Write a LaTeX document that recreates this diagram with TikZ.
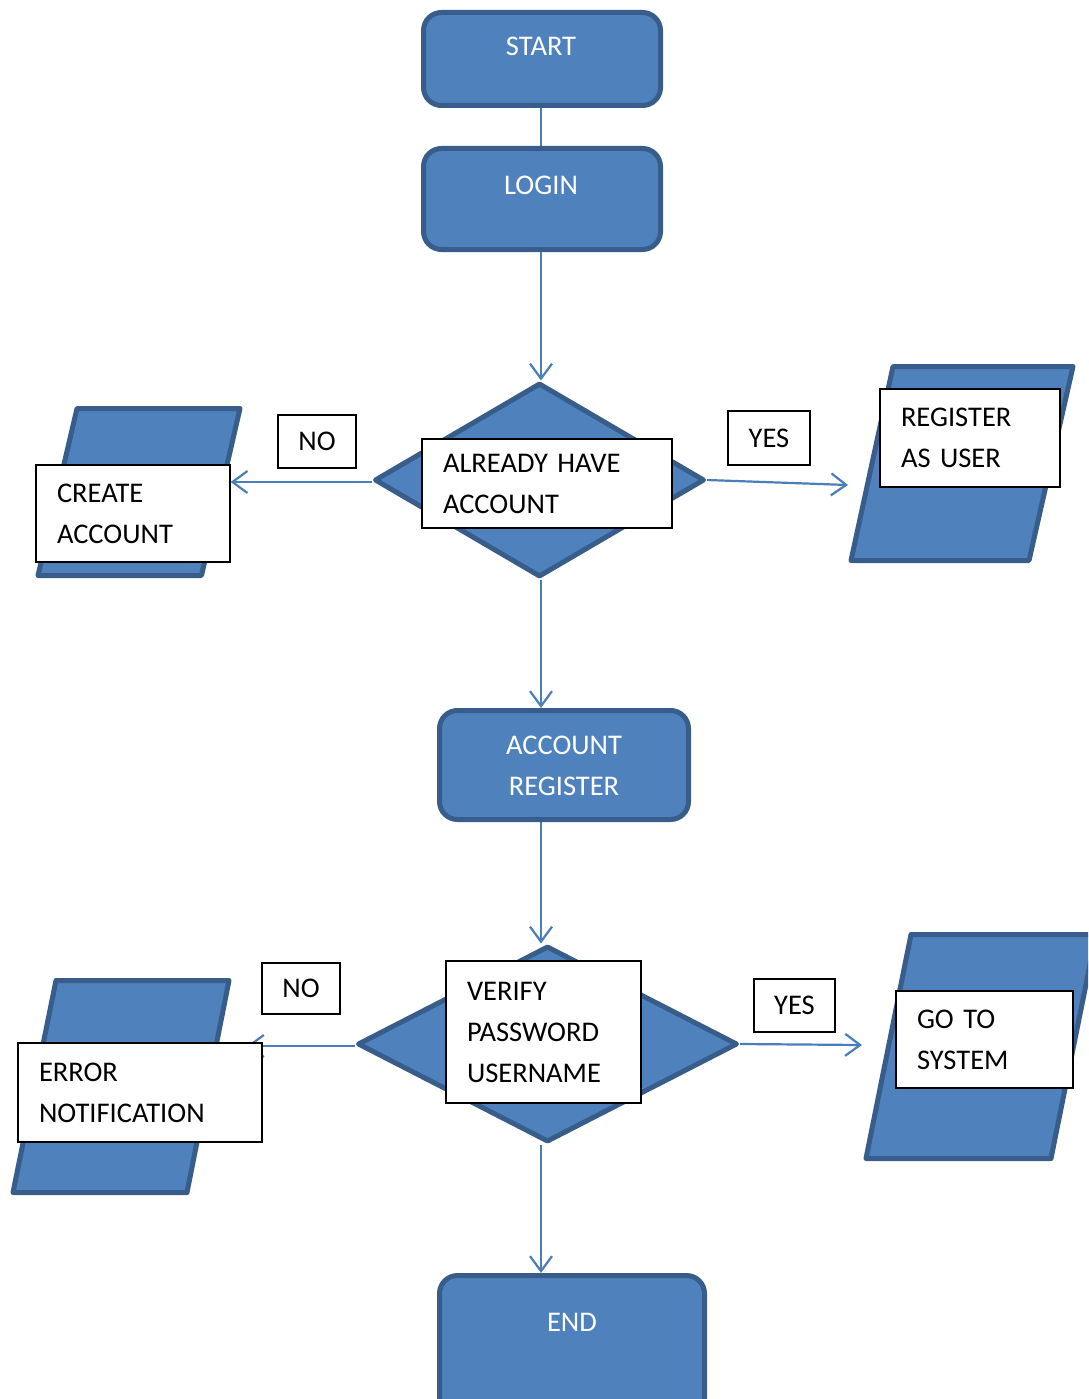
\documentclass[tikz,border=0pt]{standalone}
\usepackage{fontspec}
\setmainfont{Carlito}
\usetikzlibrary{arrows.meta,shapes.geometric,calc}
\definecolor{mblue}{HTML}{4F81BD}
\definecolor{dkblue}{HTML}{385D8A}
\definecolor{lblue}{HTML}{4A7EBB}
\newcommand\diafont{\fontsize{28.5}{41}\selectfont}
\begin{document}
\begin{tikzpicture}[x=1pt,y=-1pt,
  term/.style={rectangle, draw=dkblue, line width=5pt, fill=mblue, rounded corners=18pt, inner sep=0pt},
  termtext/.style={text=white, font=\diafont, inner sep=0pt, align=center},
  dec/.style={diamond, draw=dkblue, line width=5pt, fill=mblue, inner sep=0pt, line join=round},
  io/.style={draw=dkblue, line width=5pt, fill=mblue, line join=round},
  wbox/.style={rectangle, draw=black, line width=1.2pt, fill=white, align=left, font=\diafont, inner xsep=21pt, inner ysep=0pt},
  lab/.style={rectangle, draw=black, line width=1.2pt, fill=white, font=\diafont, inner sep=0pt},
  conn/.style={draw=lblue, line width=2.2pt},
  arr/.style={conn, -{Straight Barb[length=15pt,width=22pt]}}
]
\useasboundingbox (0,0) rectangle (1088,1399);
\clip (0,0) rectangle (1088,1399);

% terminal / process boxes
\node[term, minimum width=237pt, minimum height=93pt] (start) at (542,59) {};
\node[termtext] (startt) at (541,46) {START};
\node[term, minimum width=237pt, minimum height=101pt] (login) at (542,199) {};
\node[termtext] (logint) at (541,185) {LOGIN};
\node[term, minimum width=249pt, minimum height=109pt] (acc) at (564,765) {};
\node[termtext] (acct) at (564,766) {ACCOUNT\\REGISTER};
\node[term, minimum width=265pt, minimum height=155pt] (end) at (572,1353) {};
\node[termtext] (endt) at (572,1322) {END};

% decisions
\node[dec, minimum width=330pt, minimum height=194pt] (d1) at (539.5,480) {};
\node[dec, minimum width=380pt, minimum height=196pt] (d2) at (547.5,1044) {};

% input/output parallelograms
\draw[io] (77,408.5) -- (240,408.5) -- (201.5,575.5) -- (38,575.5) -- cycle;
\draw[io] (893,366.5) -- (1073,366.5) -- (1029,560.5) -- (851,560.5) -- cycle;
\draw[io] (56,980.5) -- (229,980.5) -- (187,1192.5) -- (13,1192.5) -- cycle;
\draw[io] (911,934.5) -- (1096,934.5) -- (1051,1158.5) -- (866,1158.5) -- cycle;

% connector helper coordinates
\coordinate (trunk) at (541,0);
\coordinate (regin) at (848,485);
\coordinate (errin) at (247,1046);
\coordinate (gotoin) at (862,1045);

% connectors
\draw[conn] (start.south -| trunk) -- (login.north -| trunk);
\draw[arr] (login.south -| trunk) -- (d1.north -| trunk);
\draw[arr] (d1.east) -- (regin);
\draw[arr] (d1.south -| trunk) -- (acc.north -| trunk);
\draw[arr] (acc.south -| trunk) -- (d2.north -| trunk);
\draw[arr] (d2.west |- errin) -- (errin);
\draw[arr] (d2.east) -- (gotoin);
\draw[arr] (d2.south -| trunk) -- (end.north -| trunk);

% white text boxes
\node[wbox, minimum width=194pt, minimum height=97pt, text width=152pt] (create) at (133,513.5) {CREATE\\ACCOUNT};
\draw[arr] ($(d1.west)+(0,2)$) -- ($(d1.west -| create.east)+(0,2)$);
\node[wbox, minimum width=180pt, minimum height=98pt, text width=138pt] (reg) at (970,438) {REGISTER\\AS USER};
\node[wbox, minimum width=244pt, minimum height=99pt, text width=202pt] (err) at (140,1092.5) {ERROR\\NOTIFICATION};
\node[wbox, minimum width=177pt, minimum height=97pt, text width=135pt] (goto) at (984.5,1039.5) {GO TO\\SYSTEM};
\node[wbox, minimum width=250pt, minimum height=89pt, text width=208pt] (d1t) at (547,483.5) {ALREADY HAVE\\ACCOUNT};
\node[wbox, minimum width=195pt, minimum height=142pt, text width=153pt] (d2t) at (543.5,1032) {VERIFY\\PASSWORD\\USERNAME};

% branch labels
\node[lab, minimum width=78pt, minimum height=53pt] (no1) at (317,441.5) {NO};
\node[lab, minimum width=82pt, minimum height=54pt] (yes1) at (769,438) {YES};
\node[lab, minimum width=78pt, minimum height=51pt] (no2) at (301,988.5) {NO};
\node[lab, minimum width=81pt, minimum height=53pt] (yes2) at (794.5,1005.5) {YES};
\end{tikzpicture}
\end{document}
